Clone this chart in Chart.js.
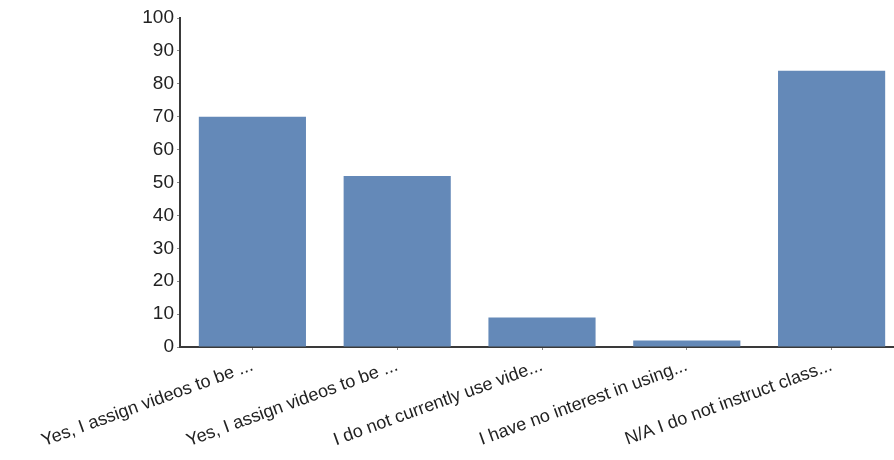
<!DOCTYPE html>
<html>
<head>
<meta charset="utf-8">
<script src="https://cdn.jsdelivr.net/npm/chart.js@4/dist/chart.umd.min.js"></script>
<style>
  html, body { margin: 0; padding: 0; background: #fff; overflow: hidden; }
  #wrap { width: 906px; height: 460px; }
</style>
</head>
<body>
<div id="wrap"><canvas id="chart" width="906" height="460"></canvas></div>
<script>
// 차트 데이터
const categories = [
  'Yes, I assign videos to be ...',
  'Yes, I assign videos to be ...',
  'I do not currently use vide...',
  'I have no interest in using...',
  'N/A I do not instruct class...',
];
const values = [70, 52, 9, 2, 84];
const yTicks = [0, 10, 20, 30, 40, 50, 60, 70, 80, 90, 100];

const BAR_COLOR = '#6489b8';
const AXIS_COLOR = '#3a3a3a';
const TEXT_COLOR = '#222';

const ctx = document.getElementById('chart');

new Chart(ctx.getContext('2d'), {
  type: 'bar',
  data: {
    labels: categories,
    datasets: [
      {
        data: values,
        backgroundColor: BAR_COLOR,
        categoryPercentage: 1,
        barPercentage: 0.74,
      },
    ],
  },
  options: {
    responsive: false,
    animation: false,
    layout: { padding: { top: 18, right: 2, left: 0, bottom: 0 } },
    plugins: {
      legend: { display: false },
      tooltip: { enabled: false },
    },
    scales: {
      x: {
        grid: {
          offset: false,
          drawOnChartArea: false,
          drawTicks: true,
          tickLength: 3,
          color: '#888',
        },
        border: { display: true, color: AXIS_COLOR, width: 2 },
        ticks: {
          color: TEXT_COLOR,
          font: { family: 'Liberation Sans', size: 18 },
          minRotation: 20,
          maxRotation: 20,
          autoSkip: false,
          padding: 5,
        },
        afterFit: (scale) => {
          scale.height = 113;
        },
      },
      y: {
        min: 0,
        max: 100,
        afterBuildTicks: (scale) => {
          scale.ticks = yTicks.map((v) => ({ value: v }));
        },
        grid: {
          drawOnChartArea: false,
          drawTicks: true,
          tickLength: 3,
          color: '#888',
        },
        border: { display: true, color: AXIS_COLOR, width: 2 },
        ticks: {
          color: TEXT_COLOR,
          font: { family: 'Liberation Sans', size: 19 },
          padding: 3,
        },
        afterFit: (scale) => {
          scale.width = 180;
        },
      },
    },
  },
});
</script>
</body>
</html>
